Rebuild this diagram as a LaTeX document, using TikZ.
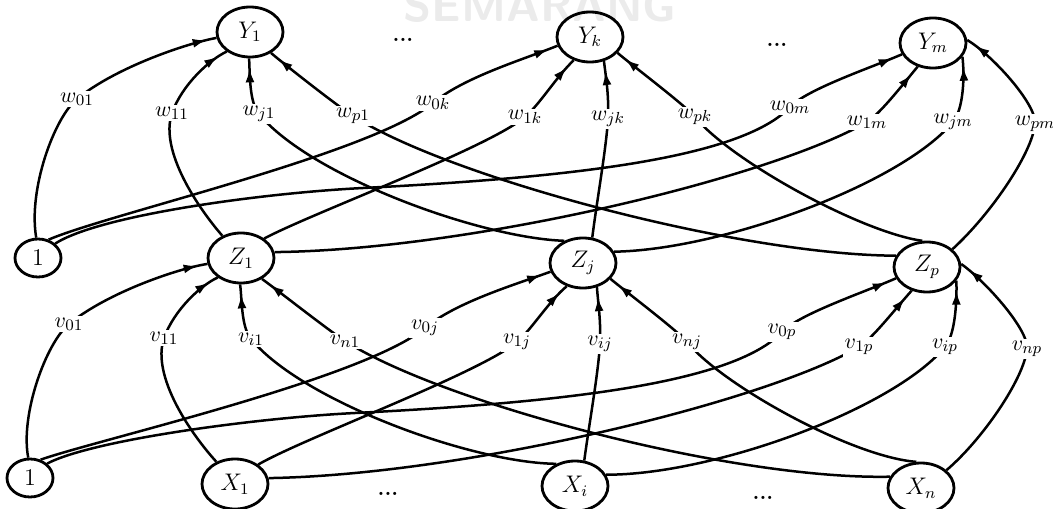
\documentclass[tikz,border=0pt]{standalone}
\usetikzlibrary{shapes.geometric,arrows.meta,decorations.markings}
\tikzset{
  nd/.style={draw,ellipse,line width=1.4pt,minimum width=33pt,minimum height=25pt,inner sep=0pt,font=\fontsize{11.5}{13}\selectfont},
  bias/.style={nd,minimum width=23pt,minimum height=19pt},
  edge/.style={line width=1.25pt,postaction={decorate},decoration={markings,mark=at position -5pt with {\arrow{Latex[length=7pt,width=4.5pt]}}}},
  lbl/.style={fill=white,inner sep=1pt,font=\fontsize{11}{13}\selectfont},
  dotsty/.style={font=\fontsize{11}{13}\selectfont\bfseries,inner sep=1pt},
  wmark/.style={text=black!8,font=\sffamily\bfseries\fontsize{23}{23}\selectfont,anchor=base,inner sep=0pt}
}
\newcommand\layer[7]{%
\draw[edge] (#10.95) .. controls (28,190) and (54,118) .. (77,99) node[lbl]{$#7_{01}$} .. controls (116,67) and (188,43) .. (#41.190);
\draw[edge] (#10.60) .. controls (108,214) and (371,154) .. (433,103) node[lbl]{$#7_{0#5}$} .. controls (464,77) and (525,59) .. (#4#5.195);
\draw[edge] (#10.40) .. controls (100,215) and (263,193) .. (363,188) .. controls (560,178) and (740,160) .. (790,107) node[lbl]{$#7_{0#6}$} .. controls (807,89) and (873,67) .. (#4#6.200);
\draw[edge] (#11.130) .. controls (199,209) and (159,151) .. (172,113) node[lbl]{$#7_{11}$} .. controls (182,85) and (209,60) .. (#41.220);
\draw[edge] (#11.40) .. controls (312,213) and (486,149) .. (525,117) node[lbl]{$#7_{1#5}$} .. controls (540,104) and (557,76) .. (#4#5.235);
\draw[edge] (#11.10) .. controls (470,250) and (770,178) .. (867,122) node[lbl]{$#7_{1#6}$} .. controls (880,114) and (904,83) .. (#4#6.237);
\draw[edge] (#1#2.130) .. controls (480,238) and (310,176) .. (259,114) node[lbl]{$#7_{#21}$} .. controls (249,102) and (250,73) .. (#41.268);
\draw[edge] (#1#2.70) .. controls (597,200) and (606,150) .. (608,119) node[lbl]{$#7_{#2#5}$} .. controls (609,95) and (606,78) .. (#4#5.300);
\draw[edge] (#1#2.20) .. controls (720,250) and (900,185) .. (953,122) node[lbl]{$#7_{#2#6}$} .. controls (963,110) and (965,78) .. (#4#6.335);
\draw[edge] (#1#3.160) .. controls (740,255) and (450,178) .. (353,116) node[lbl]{$#7_{#31}$} .. controls (336,105) and (284,64) .. (#41.315);
\draw[edge] (#1#3.100) .. controls (860,232) and (730,160) .. (695,117) node[lbl]{$#7_{#3#5}$} .. controls (686,106) and (633,66) .. (#4#5.330);
\draw[edge] (#1#3.35) .. controls (990,215) and (1032,154) .. (1035,124) node[lbl]{$#7_{#3#6}$} .. controls (1037,104) and (991,54) .. (#4#6.5);
}
\begin{document}
\begin{tikzpicture}[x=0.5pt,y=-0.5pt]
\useasboundingbox (0,0) rectangle (1053,508);
\node[wmark] (wm) at (540,22) {SEMARANG};
% output layer
\node[nd] (y1) at (250,32) {$Y_1$};
\node[nd] (yk) at (590,37) {$Y_k$};
\node[nd] (ym) at (933,43) {$Y_m$};
% hidden layer
\node[bias] (z0) at (38,258) {$1$};
\node[nd] (z1) at (241,258) {$Z_1$};
\node[nd] (zj) at (583,263) {$Z_j$};
\node[nd] (zp) at (927,267) {$Z_p$};
% input layer
\node[bias] (x0) at (30,478) {$1$};
\node[nd] (x1) at (235,484) {$X_1$};
\node[nd] (xi) at (575,486) {$X_i$};
\node[nd] (xn) at (921,488) {$X_n$};
% dots
\node[dotsty] (d1) at (403,40) {...};
\node[dotsty] (d2) at (777,45) {...};
\node[dotsty] (d3) at (388,494) {...};
\node[dotsty] (d4) at (763,498) {...};
% connections
\layer{z}{j}{p}{y}{k}{m}{w}
\begin{scope}[shift={(-8,225)}]
\layer{x}{i}{n}{z}{j}{p}{v}
\end{scope}
\end{tikzpicture}
\end{document}
